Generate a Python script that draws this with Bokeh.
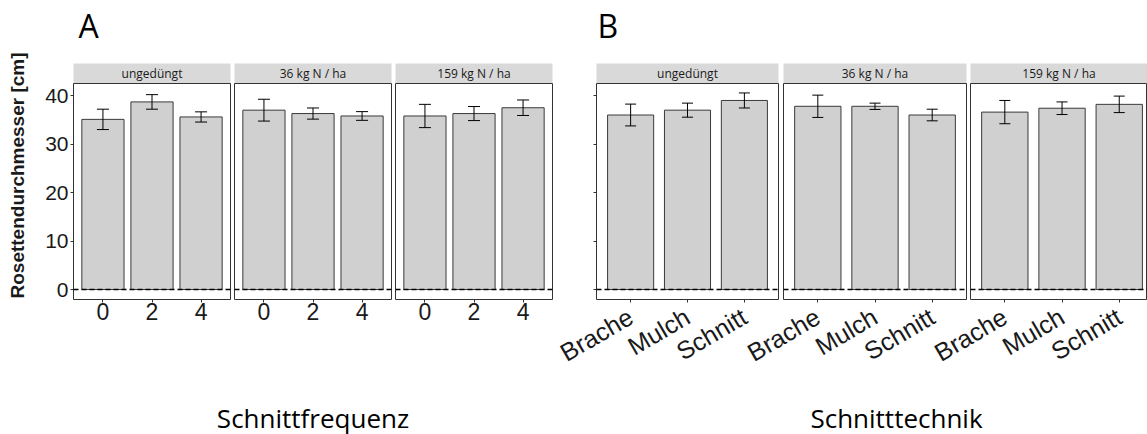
import math
from bokeh.plotting import figure
from bokeh.models import (ColumnDataSource, FixedTicker, Span, Whisker, TeeHead, Range1d)
from bokeh.core.properties import value
from bokeh.layouts import row, column
from bokeh.embed import file_html
from bokeh.resources import INLINE

# ---------------- data ----------------
facets = ["ungedüngt", "36 kg N / ha", "159 kg N / ha"]
freq_labels = ["0", "2", "4"]
tech_labels = ["Brache", "Mulch", "Schnitt"]

freq_mean = [[35.1, 38.7, 35.6],
             [37.0, 36.3, 35.8],
             [35.8, 36.3, 37.5]]
freq_se = [[2.1, 1.5, 1.05],
           [2.25, 1.15, 0.9],
           [2.4, 1.45, 1.6]]

tech_mean = [[36.0, 37.0, 39.0],
             [37.8, 37.8, 36.0],
             [36.6, 37.4, 38.2]]
tech_se = [[2.25, 1.45, 1.55],
           [2.3, 0.65, 1.2],
           [2.4, 1.3, 1.7]]

y_ticks = [0, 10, 20, 30, 40]
y_title = "Rosettendurchmesser [cm]"
x_title_a = "Schnittfrequenz"
x_title_b = "Schnitttechnik"
panel_letters = ["A", "B"]

# ---------------- layout / style ----------------
W, H = 1147, 434
LW = 30                      # column holding the y title
TOP_H, BOT_H = 83, 34
FRAME_H = 216
PANEL_BOTTOM = H - TOP_H - BOT_H - FRAME_H
Y0, Y1 = -2.06, 42.5
BAR_FILL = "#d0d0d0"
EDGE = "#333333"
STRIP = "#d9d9d9"
FONT = "Liberation Sans"
OVER = 40                    # extra left room for rotated labels, overlapped

# (left border, frame width, right border, x range end, overlap)
geom = [(73 - LW, 157, 2, 3.6, 0), (2, 157, 2, 3.6, 0), (2, 157, 2, 3.6, 0),
        (42, 182, 2, 3.6, 0), (3, 183, 2, 3.6, OVER), (2, 177, 0, 3.494, OVER)]


def panel(means, ses, labels, g, ymode, rotated, bar_w, head):
    lb, fw, rb, x_end, ov = g
    p = figure(frame_width=fw, frame_height=FRAME_H, title=None,
               x_range=Range1d(0.4, x_end), y_range=Range1d(Y0, Y1),
               output_backend="svg", toolbar_location=None,
               min_border_left=lb + ov, min_border_right=rb,
               min_border_top=0, min_border_bottom=PANEL_BOTTOM)
    if ov:
        p.margin = (0, 0, 0, -ov)
        p.border_fill_color = None
        p.background_fill_color = None
    p.grid.visible = False
    p.outline_line_color = EDGE
    p.outline_line_width = 1
    xs = [1, 2, 3]
    src = ColumnDataSource(dict(
        x=xs, top=means,
        lower=[m - s for m, s in zip(means, ses)],
        upper=[m + s for m, s in zip(means, ses)]))
    p.vbar(x="x", top="top", bottom=0, width=bar_w, source=src,
           fill_color=BAR_FILL, line_color="#3a3a3a", line_width=1)
    p.add_layout(Whisker(base="x", lower="lower", upper="upper", source=src,
                         level="overlay", line_color="black", line_width=1,
                         upper_head=TeeHead(size=head, line_color="black", line_width=1),
                         lower_head=TeeHead(size=head, line_color="black", line_width=1)))
    p.add_layout(Span(location=0, dimension="width", line_color="black",
                      line_dash="5 3", line_width=1.6))

    ax = p.xaxis[0]
    ax.ticker = FixedTicker(ticks=xs)
    ax.major_label_overrides = {x: l for x, l in zip(xs, labels)}
    ax.axis_line_color = None
    ax.major_tick_out = 3
    ax.major_tick_in = 0
    ax.minor_tick_line_color = None
    ax.major_tick_line_color = EDGE
    ax.major_label_text_color = "#1a1a1a"
    ax.major_label_text_font = FONT
    if rotated:
        ax.major_label_orientation = 0.53
        ax.major_label_text_font_size = "25px"
        ax.major_label_standoff = 12
    else:
        ax.major_label_text_font_size = "23px"
        ax.major_label_standoff = 0

    ya = p.yaxis[0]
    if ymode == "none":
        ya.visible = False
    else:
        ya.ticker = FixedTicker(ticks=y_ticks)
        ya.axis_line_color = None
        ya.major_tick_out = 3
        ya.major_tick_in = 0
        ya.minor_tick_line_color = None
        ya.major_tick_line_color = EDGE
        if ymode == "full":
            ya.major_label_text_font = FONT
            ya.major_label_text_font_size = "21px"
            ya.major_label_text_color = "#1a1a1a"
            ya.major_label_standoff = 2
        else:
            ya.major_label_overrides = {t: "" for t in y_ticks}
    return p


panels = []
for i in range(3):
    panels.append(panel(freq_mean[i], freq_se[i], freq_labels, geom[i],
                        "full" if i == 0 else "none", False, 0.86, 12))
for i in range(3):
    panels.append(panel(tech_mean[i], tech_se[i], tech_labels, geom[3 + i],
                        "ticks" if i == 0 else "none", True, 0.81, 11))

# frame positions (page px) derived from the panel geometry
lefts, rights = [], []
cur = LW
for lb, fw, rb, _, _ in geom:
    lefts.append(cur + lb)
    rights.append(cur + lb + fw)
    cur += lb + fw + rb


def blank(x0, w, h):
    f = figure(width=w, height=h, x_range=Range1d(x0, x0 + w), y_range=Range1d(0, h),
               output_backend="svg", toolbar_location=None, min_border=0, title=None)
    f.axis.visible = False
    f.grid.visible = False
    f.outline_line_color = None
    return f


# y-axis title column
left = blank(0, LW, H)
left.text(x=[17], y=[H - 175], text=[y_title], angle=math.pi / 2,
          text_font=value(FONT), text_font_style="bold", text_font_size="19px",
          text_color="#1a1a1a", text_align="center", text_baseline="middle")

top = blank(LW, W - LW, TOP_H)
strip_src = ColumnDataSource(dict(
    left=lefts, right=rights,
    cx=[(l + r) / 2 for l, r in zip(lefts, rights)],
    name=facets + facets))
top.quad(left="left", right="right", bottom=0, top=20, source=strip_src,
         fill_color=STRIP, line_color=None)
top.text(x="cx", y=10, text="name", source=strip_src, text_align="center",
         text_baseline="middle", text_font=value("Open Sans"),
         text_font_size="12px", text_color="#1a1a1a")
top.text(x=[lefts[0] + 5, lefts[3] + 1], y=[TOP_H - 25, TOP_H - 25], text=panel_letters,
         text_font=value("Open Sans"), text_font_size="32px",
         text_color="black", text_baseline="middle", text_align="left")

bottom = blank(LW, W - LW, BOT_H)
bottom.text(x=[(lefts[1] + rights[1]) / 2, 896], y=[17, 17],
            text=[x_title_a, x_title_b], text_font=value("Open Sans"),
            text_font_size="26px", text_color="black",
            text_align="center", text_baseline="middle")

layout = row(left, column(top, row(*panels), bottom))
open("out.html", "w").write(file_html(layout, INLINE))
